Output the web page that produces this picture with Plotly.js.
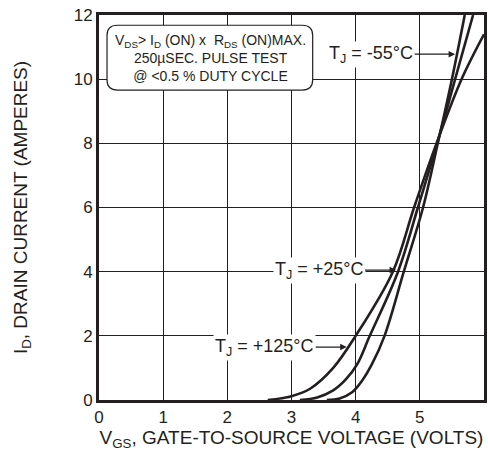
<!DOCTYPE html>
<html><head><meta charset="utf-8">
<script src="https://cdn.plot.ly/plotly-3.0.1.min.js"></script>
<style>html,body{margin:0;padding:0;background:#fff}</style>
</head><body><div id="chart" style="width:488px;height:451px"></div>
<script>
// Transfer characteristics: I_D (A) vs V_GS (V)
const vgs_m55 = [3.55, 3.75, 3.95, 4.10, 4.25, 4.45, 4.75, 5.05, 5.28, 5.50, 5.70];
const id_m55  = [0.00, 0.05, 0.25, 0.60, 1.10, 2.00, 4.00, 6.00, 8.00, 10.0, 12.0];
const vgs_25  = [3.13, 3.40, 3.65, 3.85, 4.02, 4.22, 4.66, 4.97, 5.27, 5.55, 5.83];
const id_25   = [0.00, 0.08, 0.30, 0.65, 1.10, 2.00, 4.00, 6.00, 8.00, 10.0, 12.0];
const vgs_125 = [2.63, 3.00, 3.29, 3.65, 4.00, 4.58, 4.91, 5.26, 5.65, 6.00];
const id_125  = [0.00, 0.12, 0.35, 1.00, 2.00, 4.00, 6.00, 8.00, 10.0, 11.4];
const xTicks = [0, 1, 2, 3, 4, 5, 6];
const yTicks = [0, 2, 4, 6, 8, 10, 12];

const lineStyle = {color: '#231f20', width: 2.6, shape: 'spline', smoothing: 1};
const traces = [
  {x: vgs_m55, y: id_m55, mode: 'lines', line: lineStyle, name: '-55°C'},
  {x: vgs_25, y: id_25, mode: 'lines', line: lineStyle, name: '+25°C'},
  {x: vgs_125, y: id_125, mode: 'lines', line: lineStyle, name: '+125°C'}
];

const font = {family: 'Liberation Sans, Arial, sans-serif', color: '#231f20'};
function arrowAnn(text, x, y, ax) {
  return {x: x, y: y, xref: 'x', yref: 'y', text: text, showarrow: true,
    arrowhead: 2, arrowsize: 1, arrowwidth: 1.3, arrowcolor: '#231f20',
    ax: ax, ay: 0, bgcolor: '#ffffff', borderpad: 1,
    font: Object.assign({}, font, {size: 18})};
}

// rounded box (data coords)
const bx0 = 0.125, bx1 = 3.33, by0 = 9.66, by1 = 11.68, rx = 0.16, ry = 0.32;
const boxPath = `M ${bx0+rx},${by1} L ${bx1-rx},${by1} Q ${bx1},${by1} ${bx1},${by1-ry} ` +
  `L ${bx1},${by0+ry} Q ${bx1},${by0} ${bx1-rx},${by0} L ${bx0+rx},${by0} ` +
  `Q ${bx0},${by0} ${bx0},${by0+ry} L ${bx0},${by1-ry} Q ${bx0},${by1} ${bx0+rx},${by1} Z`;

const layout = {
  width: 488, height: 451,
  margin: {l: 99, r: 4, t: 15, b: 51},
  paper_bgcolor: '#fff', plot_bgcolor: '#fff',
  showlegend: false,
  font: font,
  xaxis: {range: [0, 6], tickvals: xTicks, ticktext: xTicks.map(String),
    showgrid: true, gridcolor: '#231f20', gridwidth: 1, zeroline: false,
    showline: true, linecolor: '#231f20', linewidth: 3, mirror: true,
    ticks: '', ticklen: 0, tickfont: {size: 17}, fixedrange: true,
    title: {text: 'V<sub>GS</sub>, GATE-TO-SOURCE VOLTAGE (VOLTS)', font: {size: 19}, standoff: 2}},
  yaxis: {range: [0, 12], tickvals: yTicks, ticktext: yTicks.map(String),
    showgrid: true, gridcolor: '#231f20', gridwidth: 1, zeroline: false,
    showline: true, linecolor: '#231f20', linewidth: 3, mirror: true,
    ticks: '', ticklen: 0, tickfont: {size: 17}, fixedrange: true,
    title: {text: 'I<sub>D</sub>, DRAIN CURRENT (AMPERES)', font: {size: 19}, standoff: 42}},
  shapes: [{type: 'path', path: boxPath, xref: 'x', yref: 'y',
    fillcolor: '#ffffff', line: {color: '#231f20', width: 1.2}, layer: 'above'}],
  annotations: [
    {x: 1.73, y: 10.65, xref: 'x', yref: 'y', showarrow: false,
     text: 'V<sub>DS</sub>> I<sub>D</sub> (ON) x  R<sub>DS</sub> (ON)MAX.<br>250µSEC. PULSE TEST<br>@ <0.5 % DUTY CYCLE',
     align: 'center', font: Object.assign({}, font, {size: 14})},
    arrowAnn('T<sub>J</sub> = -55°C', 5.55, 10.78, -84),
    arrowAnn('T<sub>J</sub> = +25°C', 4.63, 4.05, -77),
    arrowAnn('T<sub>J</sub> = +125°C', 3.86, 1.65, -82)
  ]
};
Plotly.newPlot('chart', traces, layout, {displayModeBar: false, staticPlot: true});
</script></body></html>
